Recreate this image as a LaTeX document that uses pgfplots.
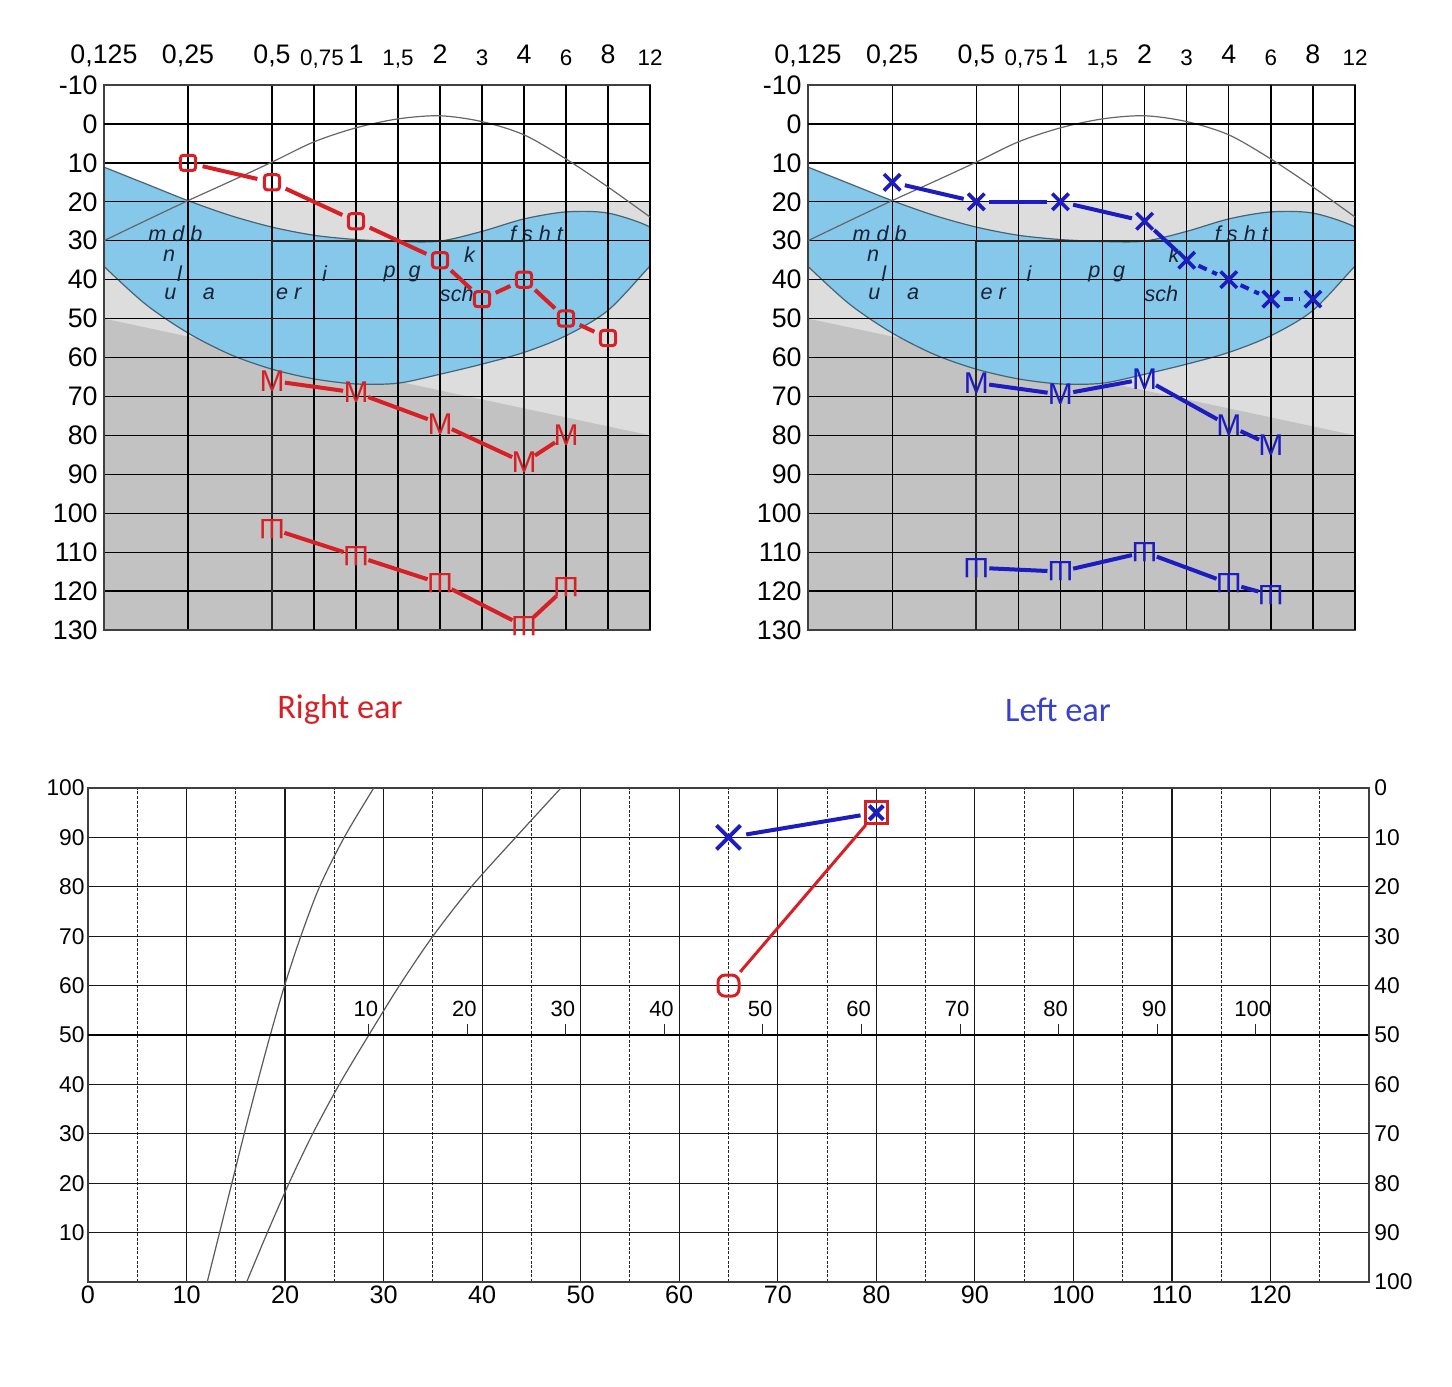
\documentclass[border=0pt]{standalone}
\usepackage{fontspec}
\setmainfont{Liberation Sans}
\newfontfamily\carlito{Carlito}
\usepackage{graphicx}
\usepackage{pgfplots}
\pgfplotsset{compat=1.18}

\definecolor{rred}{RGB}{214,32,38}
\definecolor{bblue}{RGB}{28,28,192}
\definecolor{lblue}{RGB}{55,65,205}
\definecolor{banana}{RGB}{133,200,234}
\definecolor{bananaedge}{RGB}{70,100,115}
\definecolor{lgray}{RGB}{221,221,221}
\definecolor{dgray}{RGB}{194,194,194}
\definecolor{lettc}{RGB}{25,35,55}

\newcommand\Mfont{\fontsize{15}{15}\selectfont}
\newcommand\mfont{\fontsize{14}{14}\selectfont}
\newcommand\mglyph{\rotatebox[origin=c]{180}{Ш}}

\tikzset{
  lett/.style={font=\itshape\fontsize{10.8}{11}\selectfont, text=lettc, inner sep=0pt},
  inlab/.style={font=\fontsize{11}{11}\selectfont},
}

\pgfplotsset{
  every axis/.append style={/pgf/number format/assume math mode=true},
  audiobase/.style={scale only axis, width=273pt, height=272.5pt,
    xmin=0, xmax=13, ymin=-10, ymax=130, y dir=reverse},
  audiofill/.style={audiobase, hide axis},
  audiogrid/.style={audiobase,
    axis line style={black!75, line width=0.6pt},
    major tick length=0pt,
    xtick={0,2,4,6,8,10,12},
    xticklabels={{0,125},{0,25},{0,5},1,2,4,8},
    xticklabel pos=upper,
    xticklabel style={font=\fontsize{13.4}{14}\selectfont, anchor=base, inner sep=0pt, yshift=11pt},
    extra x ticks={5,7,9,11,13},
    extra x tick labels={{\hspace*{8pt}0,75},{1,5},3,6,12},
    extra x tick style={grid=major, xticklabel pos=upper,
      xticklabel style={font=\fontsize{11.2}{12}\selectfont, yshift=-1pt}},
    ytick={-10,0,10,20,30,40,50,60,70,80,90,100,110,120,130},
    yticklabels={-10,0,10,20,30,40,50,60,70,80,90,100,110,120,130},
    yticklabel style={font=\fontsize{13.4}{14}\selectfont, anchor=east, inner sep=0pt, xshift=-3pt},
    grid=major,
    major grid style={black, line width=0.65pt},
  },
  rseg/.style={draw=rred, line width=2pt, shorten <=7.5pt, shorten >=7.5pt, mark=none},
  rmseg/.style={draw=rred, line width=2pt, shorten <=6.5pt, shorten >=6.5pt, mark=none},
  bseg/.style={draw=bblue, line width=2pt, shorten <=6.5pt, shorten >=6.5pt, mark=none},
  bdseg/.style={bseg, dash pattern=on 4.5pt off 3pt},
  omark/.style={only marks, mark=text, text mark={}, text mark as node=true,
    text mark style={draw=rred, line width=1.5pt, rounded corners=1.5pt, minimum size=7.6pt, inner sep=0pt}},
}

\newcommand\seg[5]{\addplot[#1] coordinates {(#2,#3) (#4,#5)};}

\newcommand\audiobg{%
  \addplot[fill=lgray, draw=none] coordinates {(-1,20) (14,20) (14,140) (-1,140)} --cycle;
  \addplot[fill=dgray, draw=none] coordinates {(-1,47.69) (14,82.31) (14,140) (-1,140)} --cycle;
  \addplot[fill=banana, draw=bananaedge, line width=0.6pt, smooth] coordinates {
    (-0.6,8.5) (0,11.1) (1,15.4) (2,19.7) (3,23.5) (4,26.5) (5,28.6) (6,29.7) (7,30.2) (8,30.1)
    (9,27.6) (10,24.4) (11,22.6) (12,22.9) (13,26.5) (13.45,31.5) (13,36.5) (12,47.9) (11,54.4)
    (10,58.7) (9,61.7) (8,64.3) (7,66.6) (6,66.8) (5,65.5) (4,63) (3,59.2) (2,53.7) (1,46.4)
    (0,36.6) (-0.6,30)} --cycle;
}

\newcommand\audiodeco{%
  \addplot[black!60, line width=0.6pt, smooth] coordinates {
    (0,30) (1,24.8) (2,19.7) (3,14.8) (4,9.8) (5,4.6) (6,1.0) (7,-1.3) (8,-2.1) (9,-0.6)
    (10,2.8) (11,9) (12,16.2) (13,23.9)};
  \addplot[black, line width=1.2pt] coordinates {(0,0) (13,0)};
  \addplot[black!85, line width=1.1pt] coordinates {(4,130) (4,30) (10,30) (10,130)};
  \node[lett] at (axis cs:1.7,28.2) {m d b};
  \node[lett] at (axis cs:1.55,33.8) {n};
  \node[lett] at (axis cs:1.8,38.5) {l};
  \node[lett] at (axis cs:1.58,43.6) {u};
  \node[lett] at (axis cs:2.5,43.6) {a};
  \node[lett] at (axis cs:4.4,43.6) {e r};
  \node[lett] at (axis cs:5.25,38.5) {i};
  \node[lett] at (axis cs:7.1,38.5) {p\hspace{0.6em}g};
  \node[lett] at (axis cs:8.7,33.5) {k};
  \node[lett] at (axis cs:8.4,43.6) {sch};
  \node[lett] at (axis cs:10.3,28.2) {f s h t};
}

\begin{document}
\begin{tikzpicture}
\path[use as bounding box] (0,0) rectangle (726pt,-693.5pt);

% ---------------- Right ear ----------------
\begin{axis}[audiofill, at={(52pt,-42.5pt)}, anchor=north west]
  \audiobg
\end{axis}
\begin{axis}[audiogrid, at={(52pt,-42.5pt)}, anchor=north west]
  \audiodeco
  \seg{rseg}{2}{10}{4}{15}
  \seg{rseg}{4}{15}{6}{25}
  \seg{rseg}{6}{25}{8}{35}
  \seg{rseg}{8}{35}{9}{45}
  \seg{rseg}{9}{45}{10}{40}
  \seg{rseg}{10}{40}{11}{50}
  \seg{rseg}{11}{50}{12}{55}
  \addplot[omark] coordinates {(2,10) (4,15) (6,25) (8,35) (9,45) (10,40) (11,50) (12,55)};
  \seg{rmseg}{4}{66}{6}{69}
  \seg{rmseg}{6}{69}{8}{77}
  \seg{rmseg}{8}{77}{10}{87}
  \seg{rmseg}{10}{87}{11}{80}
  \addplot[rred, only marks, mark=text, text mark={M}, text mark as node=true,
    text mark style={font=\Mfont, text=rred, inner sep=0pt}]
    coordinates {(4,66) (6,69) (8,77) (10,87) (11,80)};
  \seg{rmseg}{4}{104}{6}{111}
  \seg{rmseg}{6}{111}{8}{118}
  \seg{rmseg}{8}{118}{10}{129}
  \seg{rmseg}{10}{129}{11}{119}
  \addplot[rred, only marks, mark=text, text mark={\mglyph}, text mark as node=true,
    text mark style={font=\mfont, text=rred, inner sep=0pt}]
    coordinates {(4,104) (6,111) (8,118) (10,129) (11,119)};
\end{axis}

% ---------------- Left ear ----------------
\begin{axis}[audiofill, at={(404pt,-42.5pt)}, anchor=north west, width=273.5pt]
  \audiobg
\end{axis}
\begin{axis}[audiogrid, at={(404pt,-42.5pt)}, anchor=north west, width=273.5pt]
  \audiodeco
  \seg{bseg}{2}{15}{4}{20}
  \seg{bseg}{4}{20}{6}{20}
  \seg{bseg}{6}{20}{8}{25}
  \seg{bseg}{8}{25}{9}{35}
  \seg{bdseg}{9}{35}{10}{40}
  \seg{bdseg}{10}{40}{11}{45}
  \seg{bdseg}{11}{45}{12}{45}
  \addplot[only marks, mark=x, mark size=5.8pt, mark options={draw=bblue, line width=1.8pt}]
    coordinates {(2,15) (4,20) (6,20) (8,25) (9,35) (10,40) (11,45) (12,45)};
  \seg{bseg}{4}{66.5}{6}{69.5}
  \seg{bseg}{6}{69.5}{8}{65.5}
  \seg{bseg}{8}{65.5}{10}{77.5}
  \seg{bseg}{10}{77.5}{11}{82.5}
  \addplot[bblue, only marks, mark=text, text mark={M}, text mark as node=true,
    text mark style={font=\Mfont, text=bblue, inner sep=0pt}]
    coordinates {(4,66.5) (6,69.5) (8,65.5) (10,77.5) (11,82.5)};
  \seg{bseg}{4}{114}{6}{115}
  \seg{bseg}{6}{115}{8}{110}
  \seg{bseg}{8}{110}{10}{118}
  \seg{bseg}{10}{118}{11}{121}
  \addplot[bblue, only marks, mark=text, text mark={\mglyph}, text mark as node=true,
    text mark style={font=\mfont, text=bblue, inner sep=0pt}]
    coordinates {(4,114) (6,115) (8,110) (10,118) (11,121)};
\end{axis}

\node[font=\carlito\fontsize{17.2}{18}\selectfont, text=rred] at (170pt,-355pt) {Right ear};
\node[font=\carlito\fontsize{17.2}{18}\selectfont, text=lblue] at (529pt,-355pt) {Left ear};

% ---------------- Speech audiogram ----------------
\begin{axis}[scale only axis, width=640.5pt, height=247pt, at={(44pt,-394pt)}, anchor=north west,
  xmin=0, xmax=130, ymin=0, ymax=100,
  xtick={0,10,...,120}, minor xtick={5,15,...,125}, ytick={10,20,...,100},
  major tick length=0pt, minor tick length=0pt,
  grid=both,
  major grid style={black!90, line width=0.6pt},
  minor grid style={black!85, line width=0.5pt, dash pattern=on 1.5pt off 0.8pt},
  axis line style={black!75, line width=0.9pt},
  xticklabel style={font=\fontsize{12.6}{13}\selectfont, anchor=base, inner sep=0pt, yshift=-10.5pt},
  yticklabel style={font=\fontsize{11.4}{12}\selectfont, anchor=east, inner sep=0pt, xshift=-1.5pt},
]
  \addplot[black!65, line width=0.6pt, smooth] coordinates {
    (12.1,0) (13.35,10) (14.6,20) (15.85,30) (17.15,40) (18.5,50) (19.95,60) (21.6,70) (23.5,80) (26.0,90) (29.0,100) (29.7,102)};
  \addplot[black!65, line width=0.6pt, smooth] coordinates {
    (16.1,0) (18.2,10) (20.4,20) (22.8,30) (25.5,40) (28.5,50) (31.6,60) (35.0,70) (38.9,80) (43.4,90) (48.0,100) (49.0,102)};
  \addplot[black, line width=1.4pt] coordinates {(0,50) (130,50)};
  \draw[black!85, line width=0.5pt] (axis cs:28.5,50) -- (axis cs:28.5,52.2);
  \draw[black!85, line width=0.5pt] (axis cs:38.5,50) -- (axis cs:38.5,52.2);
  \draw[black!85, line width=0.5pt] (axis cs:48.5,50) -- (axis cs:48.5,52.2);
  \draw[black!85, line width=0.5pt] (axis cs:58.5,50) -- (axis cs:58.5,52.2);
  \draw[black!85, line width=0.5pt] (axis cs:68.5,50) -- (axis cs:68.5,52.2);
  \draw[black!85, line width=0.5pt] (axis cs:78.5,50) -- (axis cs:78.5,52.2);
  \draw[black!85, line width=0.5pt] (axis cs:88.5,50) -- (axis cs:88.5,52.2);
  \draw[black!85, line width=0.5pt] (axis cs:98.5,50) -- (axis cs:98.5,52.2);
  \draw[black!85, line width=0.5pt] (axis cs:108.5,50) -- (axis cs:108.5,52.2);
  \draw[black!85, line width=0.5pt] (axis cs:118.5,50) -- (axis cs:118.5,52.2);
  \node[inlab] at (axis cs:28.2,55.3) {10};
  \node[inlab] at (axis cs:38.2,55.3) {20};
  \node[inlab] at (axis cs:48.2,55.3) {30};
  \node[inlab] at (axis cs:58.2,55.3) {40};
  \node[inlab] at (axis cs:68.2,55.3) {50};
  \node[inlab] at (axis cs:78.2,55.3) {60};
  \node[inlab] at (axis cs:88.2,55.3) {70};
  \node[inlab] at (axis cs:98.2,55.3) {80};
  \node[inlab] at (axis cs:108.2,55.3) {90};
  \node[inlab] at (axis cs:118.2,55.3) {100};
  \addplot[rred, line width=1.5pt, shorten <=9pt, shorten >=8pt] coordinates {(65,60) (80,95)};
  \addplot[bblue, line width=2pt, shorten <=9pt, shorten >=8pt] coordinates {(65,90) (80,95)};
  \addplot[only marks, mark=text, text mark={}, text mark as node=true,
    text mark style={draw=rred, line width=1.5pt, rounded corners=3.5pt, minimum width=10.5pt, minimum height=10.5pt, inner sep=0pt}]
    coordinates {(65,60)};
  \addplot[only marks, mark=square, mark size=5.5pt, mark options={draw=rred, line width=1.5pt, fill=none}] coordinates {(80,95)};
  \addplot[only marks, mark=x, mark size=8.5pt, mark options={draw=bblue, line width=2pt}] coordinates {(65,90)};
  \addplot[only marks, mark=x, mark size=5pt, mark options={draw=bblue, line width=2pt}] coordinates {(80,95)};
\end{axis}
\begin{axis}[scale only axis, width=640.5pt, height=247pt, at={(44pt,-394pt)}, anchor=north west,
  xmin=0, xmax=130, ymin=0, ymax=100, y dir=reverse,
  hide x axis, axis y line*=right,
  ytick={0,10,...,100}, major tick length=0pt,
  axis line style={black!75, line width=0.9pt},
  yticklabel style={font=\fontsize{11.4}{12}\selectfont, anchor=west, inner sep=0pt, xshift=2.5pt},
]
\end{axis}
\end{tikzpicture}
\end{document}
